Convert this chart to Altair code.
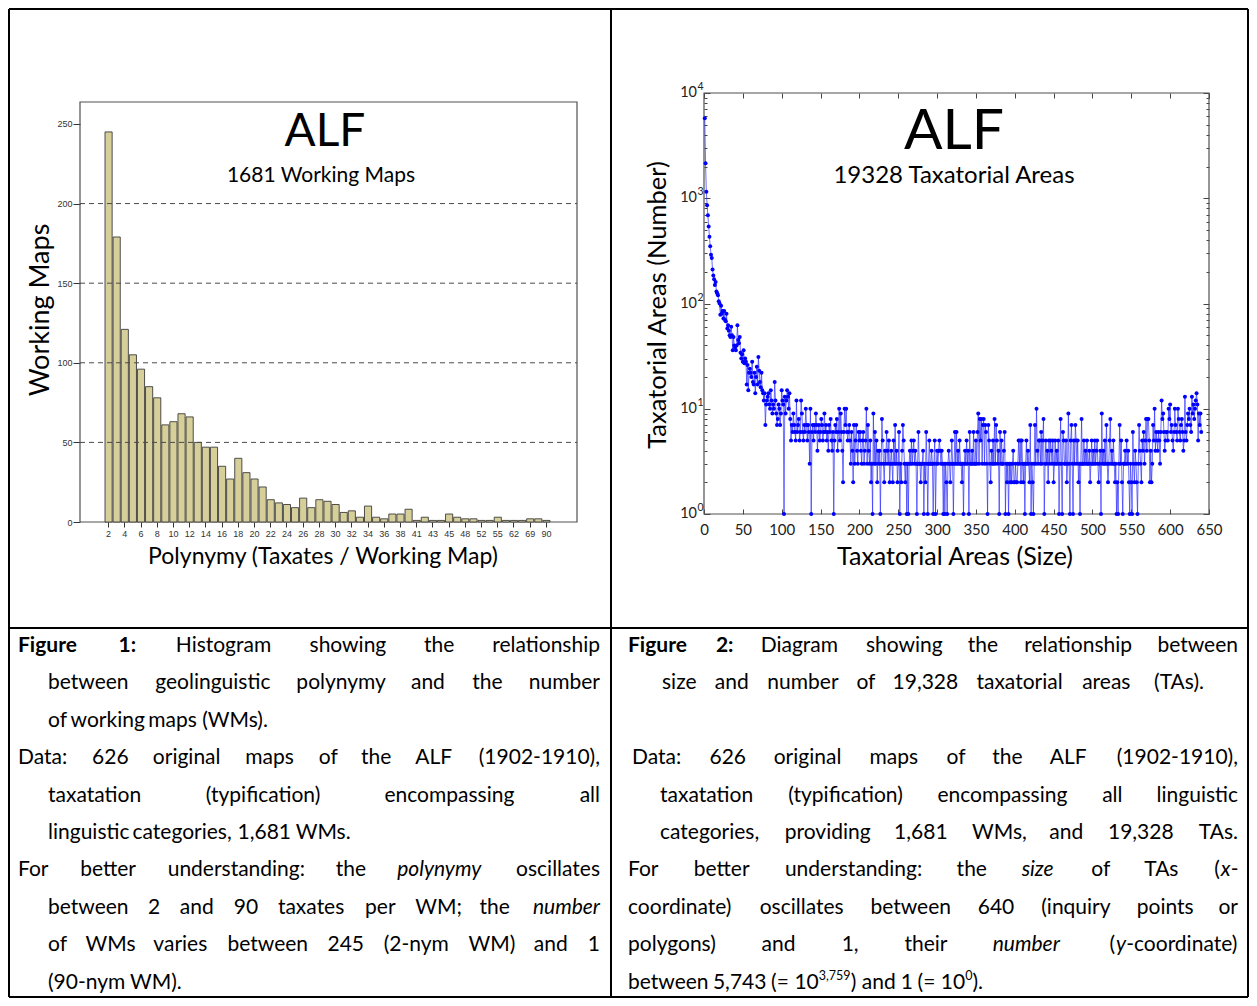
import re
import altair as alt
import pandas as pd

# ---------------- page geometry (reference pixel coordinates) ----------------
W, H = 1241, 990          # whole drawing area (view); page margin is 8 px
OX, OY = 8, 8


def vx(x):
    return x - OX


def vy(y):
    return y - OY


FONT = "Lato"

# ---------------- Figure 1 data: polynymy histogram ----------------
polynymy_a = ['2', '3', '4', '5', '6', '7', '8', '9', '10', '11',
              '12', '13', '14', '15', '16', '17', '18', '19', '20', '21']
polynymy_b = ['22', '23', '24', '25', '26', '27', '28', '29', '30', '31',
              '32', '33', '34', '35', '36', '37', '38', '39']
polynymy_c = ['41', '42', '43', '44', '45', '47', '48', '50', '52', '54',
              '55', '58', '62', '65', '69', '75', '90']

wm_2_11 = [245, 179, 121, 105, 96, 85, 78, 61, 63, 68]
wm_12_21 = [66, 50, 47, 47, 35, 27, 40, 31, 27, 22]
wm_22_31 = [14, 12, 11, 9, 15, 9, 14, 13, 11, 6]
wm_32_39 = [7, 3, 10, 3, 2, 5, 5, 8]
wm_41_90 = [1, 3, 1, 1, 5, 3, 2, 2, 1, 1, 3, 1, 1, 1, 2, 2, 1]

hist_y_ticks = [0, 50, 100, 150, 200, 250]
hist_grid = [50, 100, 150, 200]

# ---------------- Figure 2 data: number of TAs per size 1..640 ----------------
ta_001_020 = [5743, 2150, 1150, 860, 690, 540, 430, 350, 290, 270, 210, 185, 170, 150, 160, 130, 125, 120, 105, 100]
ta_021_040 = [78, 95, 80, 85, 72, 85, 70, 68, 80, 58, 62, 55, 50, 48, 60, 50, 36, 48, 40, 38]
ta_041_060 = [36, 40, 62, 45, 42, 48, 34, 30, 33, 28, 36, 27, 30, 28, 17, 26, 15, 22, 24, 22]
ta_061_080 = [20, 28, 18, 17, 22, 14, 20, 25, 17, 31, 23, 18, 16, 22, 15, 14, 12, 14, 7, 11]
ta_081_100 = [12, 13, 14, 11, 10, 15, 12, 9, 11, 10, 18, 12, 9, 7, 8, 11, 10, 7, 9, 15]
ta_101_120 = [12, 11, 1, 13, 9, 12, 15, 13, 10, 14, 8, 5, 7, 6, 9, 7, 6, 5, 12, 6]
ta_121_140 = [7, 8, 5, 6, 12, 9, 6, 5, 7, 6, 10, 7, 5, 7, 6, 3, 10, 1, 6, 7]
ta_141_160 = [5, 7, 6, 9, 7, 4, 6, 7, 5, 6, 8, 7, 5, 6, 9, 6, 7, 5, 6, 4]
ta_161_180 = [7, 6, 8, 5, 4, 6, 1, 5, 7, 6, 8, 4, 6, 10, 5, 9, 6, 4, 2, 6]
ta_181_200 = [10, 7, 10, 6, 5, 6, 7, 5, 3, 6, 4, 2, 7, 3, 5, 7, 4, 3, 6, 5]
ta_201_220 = [6, 4, 3, 5, 6, 3, 4, 5, 10, 3, 7, 4, 3, 5, 2, 3, 1, 9, 3, 6]
ta_221_240 = [3, 5, 2, 4, 3, 4, 1, 3, 8, 5, 3, 2, 4, 3, 6, 4, 3, 5, 2, 3]
ta_241_260 = [4, 3, 2, 5, 3, 7, 3, 4, 2, 3, 6, 1, 3, 2, 4, 7, 5, 3, 2, 3]
ta_261_280 = [1, 3, 1, 3, 4, 3, 5, 3, 4, 5, 3, 4, 3, 1, 3, 6, 3, 3, 2, 3]
ta_281_300 = [3, 4, 1, 3, 2, 6, 3, 1, 3, 5, 3, 3, 4, 3, 1, 3, 5, 1, 3, 4]
ta_301_320 = [3, 4, 5, 4, 3, 4, 3, 1, 3, 1, 3, 2, 1, 3, 4, 3, 2, 3, 5, 3]
ta_321_340 = [1, 3, 6, 3, 6, 3, 4, 3, 5, 3, 3, 2, 3, 1, 3, 4, 3, 5, 3, 4]
ta_341_360 = [1, 6, 3, 3, 4, 3, 6, 3, 3, 5, 3, 6, 9, 3, 8, 5, 8, 3, 7, 8]
ta_361_380 = [3, 7, 6, 3, 1, 7, 5, 3, 2, 4, 3, 5, 3, 8, 3, 7, 5, 3, 4, 1]
ta_381_400 = [6, 3, 5, 3, 3, 4, 6, 1, 3, 2, 3, 1, 3, 2, 3, 2, 3, 4, 2, 2]
ta_401_420 = [3, 2, 2, 3, 5, 3, 5, 2, 5, 3, 2, 3, 1, 3, 5, 3, 4, 3, 2, 7]
ta_421_440 = [1, 3, 2, 1, 3, 7, 3, 10, 4, 3, 5, 5, 3, 6, 3, 5, 8, 1, 3, 5]
ta_441_460 = [3, 4, 2, 5, 3, 5, 4, 3, 5, 2, 3, 5, 3, 4, 3, 5, 1, 3, 8, 3]
ta_461_480 = [1, 6, 5, 3, 3, 5, 2, 3, 9, 3, 1, 5, 7, 3, 1, 5, 3, 7, 5, 3]
ta_481_500 = [5, 2, 3, 1, 3, 8, 3, 3, 5, 3, 4, 3, 5, 3, 3, 4, 2, 3, 5, 3]
ta_501_520 = [4, 3, 5, 3, 4, 5, 3, 2, 3, 4, 1, 9, 3, 4, 3, 5, 3, 7, 3, 2]
ta_521_540 = [3, 5, 8, 3, 4, 3, 5, 3, 2, 3, 1, 2, 1, 3, 7, 3, 5, 2, 1, 3]
ta_541_560 = [3, 4, 3, 5, 3, 4, 2, 1, 3, 2, 1, 6, 3, 2, 4, 3, 2, 1, 3, 7]
ta_561_580 = [4, 3, 2, 5, 4, 6, 3, 5, 8, 4, 8, 8, 5, 2, 4, 2, 3, 7, 5, 10]
ta_581_600 = [4, 6, 5, 4, 6, 5, 3, 6, 12, 8, 9, 6, 4, 5, 6, 6, 5, 10, 8, 11]
ta_601_620 = [6, 7, 5, 4, 6, 10, 7, 6, 5, 10, 8, 6, 5, 7, 8, 6, 4, 5, 13, 6]
ta_621_640 = [5, 7, 9, 8, 10, 7, 6, 13, 9, 11, 8, 10, 12, 14, 11, 5, 9, 7, 9, 6]

sc_x_ticks = [0, 50, 100, 150, 200, 250, 300, 350, 400, 450, 500, 550, 600, 650]
sc_y_major = [1, 10, 100, 1000, 10000]
sc_y_exp = ['0', '1', '2', '3', '4']
sc_y_ticks = [1, 2, 3, 4, 5, 6, 7, 8, 9, 10, 20, 30, 40, 50, 60, 70, 80, 90,
              100, 200, 300, 400, 500, 600, 700, 800, 900,
              1000, 2000, 3000, 4000, 5000, 6000, 7000, 8000, 9000, 10000]

# ---------------- captions ----------------
cap_left = [
    (18, 600, True, "**Figure** **1:** Histogram showing the relationship"),
    (48, 600, True, "between geolinguistic polynymy and the number"),
    (48, 600, False, "of working maps (WMs)."),
    (18, 600, True, "Data: 626 original maps of the ALF (1902-1910),"),
    (48, 600, True, "taxatation (typification) encompassing all"),
    (48, 600, False, "linguistic categories, 1,681 WMs."),
    (18, 600, True, "For better understanding: the _polynymy_ oscillates"),
    (48, 600, True, "between 2 and 90 taxates per WM; the _number_"),
    (48, 600, True, "of WMs varies between 245 (2-nym WM) and 1"),
    (48, 600, False, "(90-nym WM)."),
]
cap_right = [
    (628, 1238, True, "**Figure** **2:** Diagram showing the relationship between"),
    (662, 1204, True, "size and number of 19,328 taxatorial areas (TAs)."),
    None,
    (632, 1238, True, "Data: 626 original maps of the ALF (1902-1910),"),
    (660, 1238, True, "taxatation (typification) encompassing all linguistic"),
    (660, 1238, True, "categories, providing 1,681 WMs, and 19,328 TAs."),
    (628, 1238, True, "For better understanding: the _size_ of TAs (_x_-"),
    (628, 1238, True, "coordinate) oscillates between 640 (inquiry points or"),
    (628, 1238, True, "polygons) and 1, their _number_ (_y_-coordinate)"),
    (628, 1238, False, "between 5,743 (= 10^{3,759}) and 1 (= 10^{0})."),
]
CAP_Y0, CAP_DY = 646, 37.4
CAP_SIZE, SUP_SIZE = 21, 12.5

# ---------------- layout (reference pixels) ----------------
HIST_X0, HIST_X1, HIST_Y0, HIST_Y1 = 80, 577, 102, 522
BAR_X0, BAR_X1 = 105, 550
HIST_TOP_VALUE = 263.8
SC_X0, SC_X1, SC_Y0, SC_Y1 = 704, 1209, 93, 514

# =====================================================================
polynymy = polynymy_a + polynymy_b + polynymy_c
wm_counts = wm_2_11 + wm_12_21 + wm_22_31 + wm_32_39 + wm_41_90
df_hist = pd.DataFrame({"poly": polynymy, "wm": wm_counts})

ta_counts = (ta_001_020 + ta_021_040 + ta_041_060 + ta_061_080 + ta_081_100 +
             ta_101_120 + ta_121_140 + ta_141_160 + ta_161_180 + ta_181_200 +
             ta_201_220 + ta_221_240 + ta_241_260 + ta_261_280 + ta_281_300 +
             ta_301_320 + ta_321_340 + ta_341_360 + ta_361_380 + ta_381_400 +
             ta_401_420 + ta_421_440 + ta_441_460 + ta_461_480 + ta_481_500 +
             ta_501_520 + ta_521_540 + ta_541_560 + ta_561_580 + ta_581_600 +
             ta_601_620 + ta_621_640)
df_sc = pd.DataFrame({"size": list(range(1, len(ta_counts) + 1)), "n": ta_counts})

layers = []

# ---- table borders
borders = pd.DataFrame([
    dict(x1=1, y1=1, x2=W - 1, y2=1),
    dict(x1=1, y1=H - 1, x2=W - 1, y2=H - 1),
    dict(x1=1, y1=1, x2=1, y2=H - 1),
    dict(x1=W - 1, y1=1, x2=W - 1, y2=H - 1),
    dict(x1=vx(611), y1=1, x2=vx(611), y2=H - 1),
    dict(x1=1, y1=vy(628), x2=W - 1, y2=vy(628)),
])
layers.append(
    alt.Chart(borders).mark_rule(color="black", strokeWidth=2).encode(
        x=alt.X("x1:Q", scale=None, axis=None), x2="x2:Q",
        y=alt.Y("y1:Q", scale=None, axis=None), y2="y2:Q")
)

# ---- plot frames
frames = pd.DataFrame([
    dict(x1=vx(HIST_X0), x2=vx(HIST_X1), y1=vy(HIST_Y0), y2=vy(HIST_Y1)),
    dict(x1=vx(SC_X0), x2=vx(SC_X1), y1=vy(SC_Y0), y2=vy(SC_Y1)),
])
layers.append(
    alt.Chart(frames).mark_rect(fillOpacity=0, stroke="#505050", strokeWidth=1.2).encode(
        x=alt.X("x1:Q", scale=None, axis=None), x2="x2:Q",
        y=alt.Y("y1:Q", scale=None, axis=None), y2="y2:Q")
)

# ---- histogram
xs_h = alt.Scale(domain=polynymy, range=[vx(BAR_X0), vx(BAR_X1)],
                 paddingInner=0.12, paddingOuter=0.0)
ys_h = alt.Scale(domain=[0, HIST_TOP_VALUE], range=[vy(HIST_Y1), vy(HIST_Y0)],
                 nice=False, zero=False)

bars = alt.Chart(df_hist).mark_bar(fill="#d6cf9a", stroke="#3c3c3c", strokeWidth=0.9).encode(
    x=alt.X("poly:N", sort=polynymy, scale=xs_h,
            axis=alt.Axis(orient="bottom", offset=vy(HIST_Y1) - H, values=polynymy[::2],
                          labelAngle=0, labelFont="Liberation Sans", labelFontSize=9,
                          labelColor="#333", tickColor="#333", tickSize=5, labelPadding=2,
                          domain=False, grid=False, title=None)),
    y=alt.Y("wm:Q", scale=ys_h,
            axis=alt.Axis(orient="left", offset=-vx(HIST_X0), values=hist_y_ticks,
                          labelFont="Liberation Sans", labelFontSize=9, labelColor="#333",
                          tickColor="#333", tickSize=7, labelPadding=1,
                          domain=False, grid=False, title=None)),
)
layers.append(bars)

grid = alt.Chart(pd.DataFrame({"g": hist_grid})).mark_rule(
    color="#4a4a4a", strokeDash=[5, 4], strokeWidth=1).encode(
    y=alt.Y("g:Q", scale=ys_h, axis=None),
    x=alt.value(vx(HIST_X0)), x2=alt.value(vx(HIST_X1)))
layers.append(grid)

# ---- scatter (log)
xs_s = alt.Scale(domain=[0, 650], range=[vx(SC_X0), vx(SC_X1)], nice=False, zero=False)
ys_s = alt.Scale(type="log", domain=[1, 10000], range=[vy(SC_Y1), vy(SC_Y0)], nice=False)

layers.append(
    alt.Chart(df_sc).mark_line(color="#2a2aff", strokeWidth=0.8, opacity=0.85).encode(
        x=alt.X("size:Q", scale=xs_s, axis=None),
        y=alt.Y("n:Q", scale=ys_s, axis=None))
)

layers.append(
    alt.Chart(df_sc).mark_circle(color="#0000ff", size=16, opacity=1).encode(
        x=alt.X("size:Q", scale=xs_s,
                axis=alt.Axis(orient="bottom", offset=vy(SC_Y1) - H, values=sc_x_ticks,
                              ticks=False, tickSize=0, domain=False, grid=False, title=None,
                              labelFont=FONT, labelFontSize=15, labelColor="#222",
                              labelPadding=8, labelFlush=False)),
        y=alt.Y("n:Q", scale=ys_s, axis=None))
)

# y labels "10" with superscript exponent, placed through the log scale
df_ylab = pd.DataFrame({"v": sc_y_major, "base": ["10"] * len(sc_y_major), "exp": sc_y_exp})
layers.append(
    alt.Chart(df_ylab).mark_text(font=FONT, fontSize=14.5, color="#222", align="right",
                                 baseline="middle").encode(
        y=alt.Y("v:Q", scale=ys_s, axis=None), x=alt.value(vx(697)), text="base:N")
)
layers.append(
    alt.Chart(df_ylab).mark_text(font=FONT, fontSize=10.5, color="#222", align="left",
                                 baseline="middle", dy=-6).encode(
        y=alt.Y("v:Q", scale=ys_s, axis=None), x=alt.value(vx(697.5)), text="exp:N")
)

major_test = "indexof([1,10,100,1000,10000], datum.value) >= 0"
tick_size_cond = {"condition": {"test": major_test, "value": 6}, "value": 3}
tick_df = pd.DataFrame({"size": [1, 2], "n": [1, 2]})

# inward ticks on bottom (x) and left (y) frame lines
layers.append(
    alt.Chart(tick_df).mark_point(opacity=0).encode(
        x=alt.X("size:Q", scale=xs_s,
                axis=alt.Axis(orient="top", offset=-vy(SC_Y1), values=sc_x_ticks,
                              labels=False, domain=False, grid=False, title=None,
                              tickSize=5, tickColor="#444")),
        y=alt.Y("n:Q", scale=ys_s,
                axis=alt.Axis(orient="right", offset=vx(SC_X0) - W, values=sc_y_ticks,
                              labels=False, domain=False, grid=False, title=None,
                              tickSize=tick_size_cond, tickColor="#444")))
)
# inward ticks on top (x) and right (y) frame lines
layers.append(
    alt.Chart(tick_df).mark_point(opacity=0).encode(
        x=alt.X("size:Q", scale=xs_s,
                axis=alt.Axis(orient="bottom", offset=vy(SC_Y0) - H, values=sc_x_ticks,
                              labels=False, domain=False, grid=False, title=None,
                              tickSize=5, tickColor="#444")),
        y=alt.Y("n:Q", scale=ys_s,
                axis=alt.Axis(orient="left", offset=-vx(SC_X1), values=sc_y_ticks,
                              labels=False, domain=False, grid=False, title=None,
                              tickSize=tick_size_cond, tickColor="#444")))
)


# ---- chart annotations
def label(text, x, y, size, angle=0, baseline="middle", font=FONT):
    return alt.Chart(pd.DataFrame({"t": [text]})).mark_text(
        font=font, fontSize=size, color="black", angle=angle,
        align="center", baseline=baseline).encode(
        x=alt.value(vx(x)), y=alt.value(vy(y)), text="t:N")


layers += [
    label("ALF", 325, 146, 46, baseline="alphabetic"),
    label("1681 Working Maps", 321, 182, 21, baseline="alphabetic"),
    label("Working Maps", 41, 310, 27, angle=270),
    label("Polynymy (Taxates / Working Map)", 323, 557, 23),
    label("ALF", 954, 149, 57, baseline="alphabetic"),
    label("19328 Taxatorial Areas", 954, 183, 24, baseline="alphabetic"),
    label("Taxatorial Areas (Number)", 658, 305, 25.5, angle=270),
    label("Taxatorial Areas (Size)", 955, 557, 25),
]

# ---- captions (word-positioned, justified)
CW = {}
for chars, w in [("abdeghnopqu", 0.545), ("c", 0.47), ("f", 0.31), ("ijl", 0.235),
                 ("k", 0.49), ("m", 0.835), ("r", 0.36), ("s", 0.42), ("t", 0.34),
                 ("vy", 0.49), ("w", 0.76), ("x", 0.48), ("z", 0.45),
                 ("ABCDGHKNOQRU", 0.69), ("EFLPSTZ", 0.56), ("I", 0.27), ("J", 0.39),
                 ("M", 0.89), ("VXY", 0.63), ("W", 0.98),
                 ("0123456789", 0.58), ("()", 0.31), (",.", 0.23), (":;", 0.25),
                 ("-", 0.34), ("/", 0.37), ("=", 0.58), (" ", 0.22)]:
    for c in chars:
        CW[c] = w


def text_w(s, style):
    size = SUP_SIZE if style == "sup" else CAP_SIZE
    f = 1.05 if style == "bold" else 1.0
    return sum(CW.get(c, 0.55) for c in s) * size * f


SEG_RE = re.compile(r"(\*\*[^*]+\*\*|_[^_]+_|\^\{[^}]+\})")


def parse_word(word):
    segs = []
    for part in SEG_RE.split(word):
        if not part:
            continue
        if part.startswith("**"):
            segs.append((part[2:-2], "bold"))
        elif part.startswith("^{"):
            segs.append((part[2:-1], "sup"))
        elif part.startswith("_") and part.endswith("_") and len(part) > 2:
            segs.append((part[1:-1], "italic"))
        else:
            segs.append((part, "normal"))
    return segs


rows = []
for col in (cap_left, cap_right):
    for i, entry in enumerate(col):
        if entry is None:
            continue
        left, right, justify, line = entry
        y = CAP_Y0 + i * CAP_DY
        words = [parse_word(w) for w in line.split(" ")]
        widths = [sum(text_w(t, s) for t, s in wd) for wd in words]
        if justify and len(words) > 1:
            gap = (right - left - sum(widths)) / (len(words) - 1)
        else:
            gap = CW[" "] * CAP_SIZE
        x = left
        for k, (wd, wdw) in enumerate(zip(words, widths)):
            last = justify and k == len(words) - 1
            if last and len(wd) == 1:
                rows.append(dict(x=vx(right), y=vy(y), t=wd[0][0], st=wd[0][1], al="right"))
            else:
                sx = (right - wdw) if last else x
                for t, s in wd:
                    yy = y - 7 if s == "sup" else y
                    rows.append(dict(x=vx(sx), y=vy(yy), t=t, st=s, al="left"))
                    sx += text_w(t, s)
            x += wdw + gap

df_cap = pd.DataFrame(rows)
for (st, al), sub in df_cap.groupby(["st", "al"]):
    layers.append(
        alt.Chart(sub).mark_text(
            font=FONT, fontSize=SUP_SIZE if st == "sup" else CAP_SIZE,
            fontWeight="bold" if st == "bold" else "normal",
            fontStyle="italic" if st == "italic" else "normal",
            align=al, baseline="middle", color="black").encode(
            x=alt.X("x:Q", scale=None, axis=None),
            y=alt.Y("y:Q", scale=None, axis=None),
            text="t:N")
    )

chart = alt.layer(*layers).resolve_scale(
    x="independent", y="independent"
).properties(
    width=W, height=H, padding=0,
    autosize=alt.AutoSizeParams(type="none"),
    background="white",
).configure_view(strokeWidth=0)

chart.save("out.html", embed_options={"renderer": "svg", "actions": False})
